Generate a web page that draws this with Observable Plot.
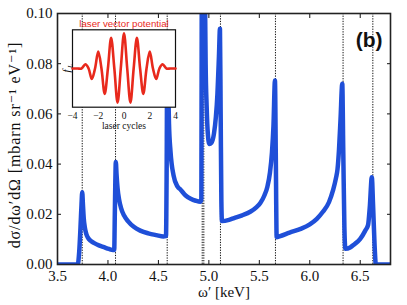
<!DOCTYPE html>
<html>
<head>
<meta charset="utf-8">
<script src="https://cdn.jsdelivr.net/npm/d3@7"></script>
<script src="https://cdn.jsdelivr.net/npm/@observablehq/plot@0.6"></script>
<style>
  body { margin: 0; background: white; }
  #c { position: relative; width: 407px; height: 305px; }
  #c svg text { font-family: "Liberation Serif", "DejaVu Serif", serif; }
  #c svg text.sans { font-family: "Liberation Sans", "DejaVu Sans", sans-serif; }
  #c svg text.wide { letter-spacing: 0.9px; }
</style>
</head>
<body>
<div id="c"></div>
<script>
// ---- data ----
const xTicks = [3.5, 4.0, 4.5, 5.0, 5.5, 6.0, 6.5];
const yTicks = [0, 0.02, 0.04, 0.06, 0.08, 0.10];
const insetTicks = [-4, -2, 0, 2, 4];

const omega = [3.50, 3.70, 3.715, 3.728, 3.738, 3.745, 3.752, 3.76, 3.772, 3.785, 3.80, 3.83, 3.86, 3.91, 3.96, 4.01, 4.05, 4.062, 4.068, 4.073, 4.078, 4.085, 4.095, 4.11, 4.13, 4.16, 4.20, 4.256, 4.32, 4.40, 4.48, 4.55, 4.575, 4.582, 4.588, 4.595, 4.605, 4.62, 4.65, 4.69, 4.72, 4.77, 4.82, 4.87, 4.915, 4.925, 4.932, 4.943, 4.953, 4.961, 4.968, 4.978, 4.99, 5.005, 5.025, 5.05, 5.07, 5.085, 5.10, 5.11, 5.117, 5.124, 5.13, 5.20, 5.25, 5.33, 5.41, 5.47, 5.51, 5.55, 5.58, 5.605, 5.625, 5.64, 5.655, 5.663, 5.672, 5.70, 5.80, 5.91, 6.00, 6.07, 6.13, 6.19, 6.23, 6.26, 6.275, 6.29, 6.305, 6.322, 6.332, 6.343, 6.353, 6.40, 6.44, 6.50, 6.55, 6.578, 6.595, 6.615, 6.627, 6.642, 6.655, 6.80];
const sigma = [0, 0, 0.005, 0.015, 0.024, 0.0288, 0.024, 0.0185, 0.0145, 0.0122, 0.0108, 0.0094, 0.0086, 0.0076, 0.0069, 0.0062, 0.0058, 0.0058, 0.02, 0.033, 0.0408, 0.036, 0.0305, 0.026, 0.0225, 0.0195, 0.0172, 0.0150, 0.0135, 0.0124, 0.0117, 0.0112, 0.0113, 0.04, 0.09, 0.075, 0.056, 0.045, 0.0355, 0.031, 0.0298, 0.0275, 0.0262, 0.0254, 0.025, 0.026, 0.14, 0.11, 0.15, 0.11, 0.08, 0.063, 0.052, 0.048, 0.0485, 0.052, 0.059, 0.068, 0.083, 0.0939, 0.06, 0.025, 0.0173, 0.0178, 0.0185, 0.0196, 0.0210, 0.0228, 0.0245, 0.0275, 0.0310, 0.0365, 0.0445, 0.055, 0.0733, 0.045, 0.0109, 0.0112, 0.0127, 0.0142, 0.0160, 0.0182, 0.0210, 0.0248, 0.0295, 0.0345, 0.038, 0.046, 0.058, 0.072, 0.045, 0.015, 0.0063, 0.0068, 0.0080, 0.0102, 0.0135, 0.0158, 0.023, 0.0348, 0.024, 0.008, 0, 0];

const thresholds = [3.745, 4.075, 4.587, 4.934, 4.95, 5.115, 5.66, 6.33, 6.625];

const cycles = [-4, -3.6, -3.3, -3.0, -2.75, -2.5, -2.25, -2.0, -1.75, -1.5, -1.25, -1.0, -0.75, -0.5, -0.25, 0, 0.25, 0.5, 0.75, 1.0, 1.25, 1.5, 1.75, 2.0, 2.25, 2.5, 2.75, 3.0, 3.3, 3.6, 4];
const fL = [0, 0, 0, 0.12, 0, -0.3, 0, 0.48, 0, -0.72, 0, 0.87, 0, -0.97, 0, 1.0, 0, -0.97, 0, 0.87, 0, -0.72, 0, 0.48, 0, -0.3, 0, 0.12, 0, 0, 0];

const yLabel = "dσ/dω′dΩ [mbarn sr⁻¹ eV⁻¹]";
const xLabel = "ω′ [keV]";
const panelLabel = "(b)";
const insetTitle = "laser vector potential";
const insetXLabel = "laser cycles";

const spectrum = omega.map((x, i) => ({x, y: sigma[i]}));
const pulse = cycles.map((t, i) => ({t, f: fL[i]}));

const blue = "#1f4fd8";
const red = "#e8291c";

// ---- main chart ----
const main = Plot.plot({
  width: 407, height: 305,
  marginLeft: 57, marginRight: 17, marginTop: 13, marginBottom: 41,
  style: {color: "#111", background: "white"},
  x: {domain: [3.5, 6.8]},
  y: {domain: [0, 0.1]},
  marks: [
    Plot.ruleX(thresholds, {x: d => d, stroke: "#111", strokeWidth: 1, strokeDasharray: "1.3,1.3"}),
    Plot.line(spectrum, {x: "x", y: "y", stroke: blue, strokeWidth: 4.5, curve: "monotone-x", clip: true, strokeLinejoin: "round"}),
    Plot.axisX({anchor: "bottom", ticks: xTicks, tickSize: -4, fill: "none", label: null}),
    Plot.axisX({anchor: "top", ticks: xTicks, tickSize: -4, fill: "none", label: null}),
    Plot.axisY({anchor: "left", ticks: yTicks, tickSize: -4, fill: "none", label: null}),
    Plot.axisY({anchor: "right", ticks: yTicks, tickSize: -4, fill: "none", label: null}),
    Plot.axisX({anchor: "bottom", ticks: xTicks, tickSize: 0, tickPadding: 6, tickFormat: d3.format(".1f"), label: null, fontSize: 15}),
    Plot.axisY({anchor: "left", ticks: yTicks, tickSize: 0, tickPadding: 5, tickFormat: d3.format(".2f"), label: null, fontSize: 15}),
    Plot.frame({stroke: "#222", strokeWidth: 1.6}),
    Plot.text([yLabel], {text: d => d, frameAnchor: "left", textAnchor: "middle", rotate: -90, dx: -43, dy: 6, fontSize: 16}),
    Plot.text([xLabel], {text: d => d, frameAnchor: "bottom", dy: 32, fontSize: 15}),
    Plot.text([panelLabel], {text: d => d, frameAnchor: "top-right", textAnchor: "end", dx: -8, dy: 19, fontWeight: "bold", fontSize: 21})
  ]
});

// ---- inset ----
const inset = Plot.plot({
  width: 128, height: 124,
  marginLeft: 17, marginRight: 8, marginTop: 15.3, marginBottom: 31.3,
  style: {color: "#111", background: "transparent", overflow: "visible"},
  x: {domain: [-4, 4]},
  y: {domain: [-1.1, 1.1], axis: null},
  marks: [
    Plot.frame({fill: "white", stroke: "#111", strokeWidth: 1.2}),
    Plot.line(pulse, {x: "t", y: "f", stroke: red, strokeWidth: 2.6, curve: "catmull-rom"}),
    Plot.axisX({anchor: "bottom", ticks: insetTicks, tickSize: 0, tickPadding: 5, label: null, fontSize: 9.5}),
    Plot.text([insetXLabel], {text: d => d, frameAnchor: "bottom", dy: 22, fontSize: 9.5}),
    Plot.text([insetTitle], {text: d => d, frameAnchor: "top", dy: -3, lineAnchor: "bottom", fill: red, fontSize: 9.7}),
    Plot.text(["f"], {text: d => d, frameAnchor: "left", textAnchor: "middle", rotate: -90, dx: -6, dy: 2.5, fontStyle: "italic", fontSize: 11}),
    Plot.text(["L"], {text: d => d, frameAnchor: "left", textAnchor: "middle", rotate: -90, dx: -3, dy: -2.5, fontStyle: "italic", fontSize: 7})
  ]
});
inset.style.position = "absolute";
inset.style.left = "55px";
inset.style.top = "14px";

const c = document.getElementById("c");
c.appendChild(main);
c.appendChild(inset);

// sans-serif for the panel label and the inset title; wider spacing for the y label
d3.select(c).selectAll("text").each(function () {
  const t = this.textContent;
  if (t === panelLabel || t === insetTitle) this.classList.add("sans");
  if (t === yLabel) this.classList.add("wide");
});
</script>
</body>
</html>
